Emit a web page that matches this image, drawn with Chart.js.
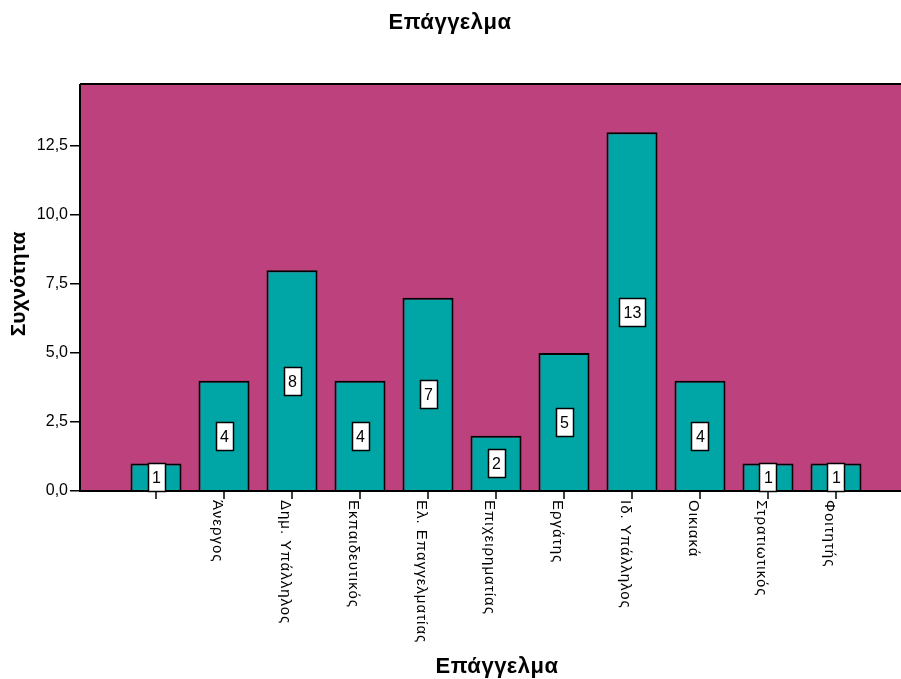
<!DOCTYPE html>
<html>
<head>
<meta charset="utf-8">
<script src="https://cdn.jsdelivr.net/npm/chart.js@4/dist/chart.umd.min.js"></script>
<style>
html,body{margin:0;padding:0;background:#fff;}
#wrap{width:901px;height:679px;position:relative;}
</style>
</head>
<body>
<div id="wrap"><canvas id="c"></canvas></div>
<script>
const chartTitle = 'Επάγγελμα';
const xTitle = 'Επάγγελμα';
const yTitle = 'Συχνότητα';
const categories = ['', 'Άνεργος', 'Δημ. Υπάλληλος', 'Εκπαιδευτικός', 'Ελ. Επαγγελματίας', 'Επιχειρηματίας', 'Εργάτης', 'Ιδ. Υπάλληλος', 'Οικιακά', 'Στρατιωτικός', 'Φοιτητής'];
const counts = [1, 4, 8, 4, 7, 2, 5, 13, 4, 1, 1];
const yTicks = [0, 2.5, 5, 7.5, 10, 12.5];

const BG = '#BC417D';
const BAR = '#00A6A6';
const FONT = 'Arial, "Liberation Sans", sans-serif';

const custom = {
  id: 'custom',
  beforeDraw(chart) {
    const ctx = chart.ctx, a = chart.chartArea;
    ctx.save();
    ctx.fillStyle = '#fff';
    ctx.fillRect(0, 0, chart.width, chart.height);
    ctx.fillStyle = BG;
    ctx.fillRect(a.left, a.top, a.right - a.left, a.bottom - a.top);
    ctx.restore();
  },
  afterDatasetsDraw(chart) {
    const ctx = chart.ctx, a = chart.chartArea;
    const xs = chart.scales.x, ys = chart.scales.y;
    ctx.save();
    ctx.strokeStyle = '#000';
    ctx.lineWidth = 2;
    ctx.beginPath();
    ctx.moveTo(a.left, a.top); ctx.lineTo(a.right + 2, a.top);
    ctx.moveTo(a.left, a.bottom); ctx.lineTo(a.right + 2, a.bottom);
    ctx.moveTo(a.left, a.top); ctx.lineTo(a.left, a.bottom + 1);
    ctx.stroke();
    ctx.font = '16px ' + FONT;
    ctx.textAlign = 'center';
    ctx.textBaseline = 'middle';
    counts.forEach((v, i) => {
      const x = xs.getPixelForValue(i);
      const y = ys.getPixelForValue(v / 2);
      const t = String(v);
      const w = Math.round(ctx.measureText(t).width + 8);
      const h = 28;
      const bx = Math.round(x - w / 2), by = Math.round(y - h / 2);
      ctx.fillStyle = '#fff';
      ctx.fillRect(bx, by, w, h);
      ctx.strokeStyle = '#000';
      ctx.lineWidth = 1.5;
      ctx.strokeRect(bx + 0.5, by + 0.5, w, h);
      ctx.fillStyle = '#000';
      ctx.fillText(t, x + 0.5, y + 1.5);
    });
    ctx.restore();
  },
  afterDraw(chart) {
    const ctx = chart.ctx, a = chart.chartArea;
    const xs = chart.scales.x;
    ctx.save();
    ctx.strokeStyle = '#000';
    ctx.lineWidth = 1.5;
    ctx.fillStyle = '#000';
    ctx.font = '15px ' + FONT;
    ctx.letterSpacing = '1px';
    categories.forEach((c, i) => {
      const x = Math.round(xs.getPixelForValue(i));
      ctx.beginPath();
      ctx.moveTo(x, a.bottom);
      ctx.lineTo(x, a.bottom + 8);
      ctx.stroke();
      ctx.save();
      ctx.translate(x + 1, a.bottom + 9);
      ctx.rotate(Math.PI / 2);
      ctx.textAlign = 'left';
      ctx.textBaseline = 'top';
      ctx.fillText(c, 0, 0);
      ctx.restore();
    });
    ctx.font = 'bold 22px ' + FONT;
    ctx.textAlign = 'center';
    ctx.textBaseline = 'middle';
    ctx.letterSpacing = '0.5px';
    ctx.fillText(chartTitle, 450, 23);
    ctx.fillText(xTitle, 497, 667);
    ctx.letterSpacing = '0px';
    ctx.save();
    ctx.translate(19, 284);
    ctx.rotate(-Math.PI / 2);
    ctx.font = 'bold 21px ' + FONT;
    ctx.fillText(yTitle, 0, 0);
    ctx.restore();
    ctx.restore();
  }
};

new Chart(document.getElementById('c'), {
  type: 'bar',
  data: {
    datasets: [{
      data: counts.map((v, i) => ({ x: i, y: v })),
      backgroundColor: BAR,
      borderColor: '#000',
      borderWidth: 2,
      borderSkipped: 'start',
      barPercentage: 0.75,
      categoryPercentage: 1
    }]
  },
  options: {
    responsive: true,
    maintainAspectRatio: false,
    animation: false,
    layout: { padding: { top: 84, left: 0, right: 0, bottom: 0 } },
    plugins: { legend: { display: false }, title: { display: false }, tooltip: { enabled: false } },
    scales: {
      x: {
        type: 'linear',
        min: -1.118,
        max: 10.956,
        offset: false,
        grid: { display: false },
        border: { display: false },
        ticks: { display: false },
        afterBuildTicks(s) { s.ticks = categories.map((c, i) => ({ value: i })); },
        afterFit(s) { s.height = 188; }
      },
      y: {
        min: 0,
        max: 14.75,
        grid: { display: true, drawOnChartArea: false, drawTicks: true, tickLength: 10, color: '#000', lineWidth: 1.5 },
        border: { display: false },
        ticks: {
          color: '#000',
          padding: 2,
          font: { family: FONT, size: 16 },
          callback: v => v.toFixed(1).replace('.', ',')
        },
        afterBuildTicks(s) { s.ticks = yTicks.map(v => ({ value: v })); },
        afterFit(s) { s.width = 80; }
      }
    }
  },
  plugins: [custom]
});
</script>
</body>
</html>
